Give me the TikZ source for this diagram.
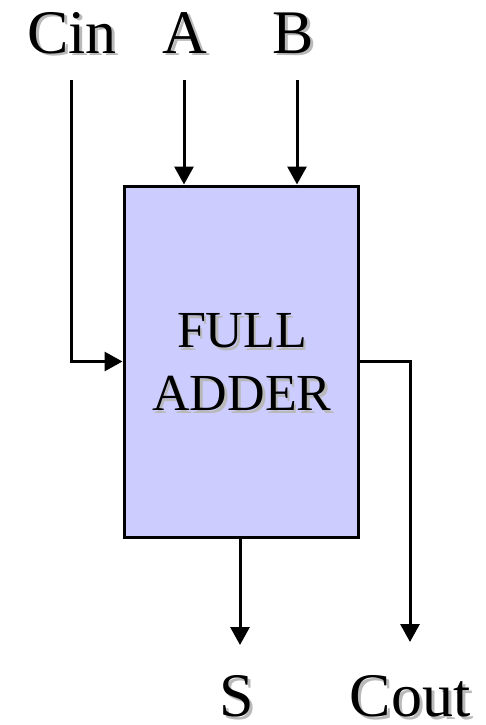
\documentclass[tikz,border=0pt]{standalone}
\usepackage{fontspec}
\setmainfont{Liberation Serif}
\usetikzlibrary{arrows.meta}
\definecolor{boxfill}{RGB}{204,204,255}
\definecolor{shadowgray}{RGB}{185,185,185}
\begin{document}
\begin{tikzpicture}[x=1pt,y=-1pt,
  wire/.style={line width=3pt},
  arr/.style={wire,-{Triangle[width=19pt,length=18pt]}},
  lbl/.style={font=\fontsize{62}{62}\selectfont,inner sep=0pt,anchor=base},
  lblsh/.style={lbl,text=shadowgray},
  blk/.style={draw,line width=3pt,fill=boxfill,minimum width=234pt,minimum height=351pt,inner sep=0pt}]
\useasboundingbox (0,0) rectangle (486,725);
% labels with shadows
\node[lblsh] (cinsh) at (75,56) {Cin};
\node[lbl] (cin) at (72,53) {Cin};
\node[lblsh] (ash) at (188,56) {A};
\node[lbl] (a) at (185,53) {A};
\node[lblsh] (bsh) at (296,56) {B};
\node[lbl] (b) at (293,53) {B};
\node[lblsh] (ssh) at (240,719) {S};
\node[lbl] (s) at (237,716) {S};
\node[lblsh] (coutsh) at (413,719) {Cout};
\node[lbl] (cout) at (410,716) {Cout};
% block
\node[blk] (fa) at (241,361.5) {};
\node[font=\fontsize{52}{63}\selectfont,align=center,inner sep=0pt,text=shadowgray] (fash) at (244.5,365) {FULL\\ADDER};
\node[font=\fontsize{52}{63}\selectfont,align=center,inner sep=0pt] (falbl) at (242,362) {FULL\\ADDER};
% connector endpoints
\coordinate (cintop) at (71,80);
\coordinate (atop) at (184,80);
\coordinate (btop) at (297,80);
\coordinate (sbot) at (240,645);
\coordinate (coutbot) at (410,642);
\draw[arr] (cintop) |- (fa.west);
\draw[arr] (atop) -- (atop |- fa.north);
\draw[arr] (btop) -- (btop |- fa.north);
\draw[arr] (sbot |- fa.south) -- (sbot);
\draw[arr] (fa.east) -| (coutbot);
\end{tikzpicture}
\end{document}
